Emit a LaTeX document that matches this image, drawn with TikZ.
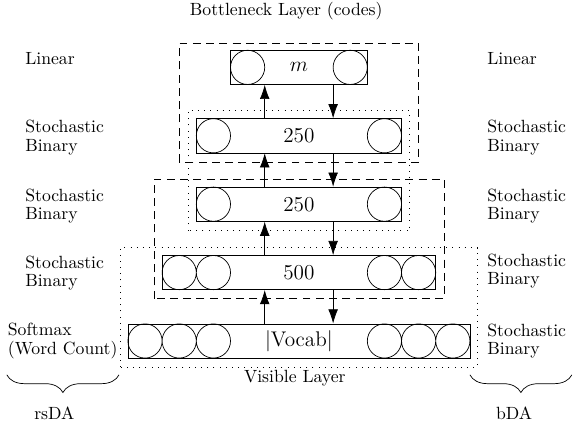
\documentclass[tikz,border=0pt]{standalone}
\usetikzlibrary{arrows.meta,decorations.pathreplacing}
\begin{document}
\begin{tikzpicture}[x=0.68cm,y=0.68cm,>={Latex[length=8pt,width=5.5pt]},
	layerbox/.style={draw, rectangle, minimum height=0.68cm, inner sep=0pt, font=\large},
	lbl/.style={align=left, inner sep=0pt, font=\fontsize{10}{10.5}\selectfont},
	dashbox/.style={dash pattern=on 4.5pt off 3pt},
	dotbox/.style={dash pattern=on 0.5pt off 3pt}]
	\useasboundingbox (-8.74,-2.54) rectangle (8.16,9.97);
	% layers
	\node[layerbox, minimum width=6.8cm] (vocab) at (0,0) {$|$Vocab$|$};
	\node[layerbox, minimum width=5.44cm] (h1) at (0,2) {500};
	\node[layerbox, minimum width=4.08cm] (h2) at (0,4) {250};
	\node[layerbox, minimum width=4.08cm] (h3) at (0,6) {250};
	\node[layerbox, minimum width=2.72cm] (code) at (0,8) {$m$};
	% units
	\draw (-4.5,0) circle (0.5) (-3.5,0) circle (0.5) (-2.5,0) circle (0.5);
	\draw (4.5,0) circle (0.5) (3.5,0) circle (0.5) (2.5,0) circle (0.5);
	\draw (-3.5,2) circle (0.5) (-2.5,2) circle (0.5);
	\draw (3.5,2) circle (0.5) (2.5,2) circle (0.5);
	\draw (-2.5,4) circle (0.5) (2.5,4) circle (0.5);
	\draw (-2.5,6) circle (0.5) (2.5,6) circle (0.5);
	\draw (-1.5,8) circle (0.5) (1.5,8) circle (0.5);
	% up and down
	\draw[->] ([xshift=-0.68cm]vocab.north) -- ([xshift=-0.68cm]h1.south);
	\draw[->] ([xshift=0.68cm]h1.south) -- ([xshift=0.68cm]vocab.north);
	\draw[->] ([xshift=-0.68cm]h1.north) -- ([xshift=-0.68cm]h2.south);
	\draw[->] ([xshift=0.68cm]h2.south) -- ([xshift=0.68cm]h1.north);
	\draw[->] ([xshift=-0.68cm]h2.north) -- ([xshift=-0.68cm]h3.south);
	\draw[->] ([xshift=0.68cm]h3.south) -- ([xshift=0.68cm]h2.north);
	\draw[->] ([xshift=-0.68cm]h3.north) -- ([xshift=-0.68cm]code.south);
	\draw[->] ([xshift=0.68cm]code.south) -- ([xshift=0.68cm]h3.north);
	% pairs
	\draw[dashbox] (-3.5,5.23) rectangle (3.5,8.71);
	\draw[dotbox] (-3.24,3.23) rectangle (3.24,6.74);
	\draw[dashbox] (-4.24,1.24) rectangle (4.24,4.74);
	\draw[dotbox] (-5.23,-0.76) rectangle (5.23,2.73);
	\node (bneck) at (-0.37,9.65) {Bottleneck Layer (codes)};
	\node (vis) at (-0.12,-1.08) {Visible Layer};
	% rsDA side
	\node[lbl, anchor=west] (linl) at (-8.01,8.27) {Linear};
	\node[lbl, anchor=west] (sb3l) at (-8.01,5.95) {Stochastic\\Binary};
	\node[lbl, anchor=west] (sb2l) at (-8.01,3.95) {Stochastic\\Binary};
	\node[lbl, anchor=west] (sb1l) at (-8.01,1.98) {Stochastic\\Binary};
	\node[lbl, anchor=west] (sml) at (-8.52,0) {Softmax\\(Word Count)};
	% bDA side
	\node[lbl, anchor=west] (linr) at (5.5,8.27) {Linear};
	\node[lbl, anchor=west] (sb3r) at (5.5,5.95) {Stochastic\\Binary};
	\node[lbl, anchor=west] (sb2r) at (5.5,3.95) {Stochastic\\Binary};
	\node[lbl, anchor=west] (sb1r) at (5.5,2.05) {Stochastic\\Binary};
	\node[lbl, anchor=west] (vr) at (5.5,0) {Stochastic\\Binary};
	\coordinate (bl1) at (-8.54,-0.99); \coordinate (bl2) at (-5.26,-0.99);
	\coordinate (br1) at (5.0,-0.99); \coordinate (br2) at (7.98,-0.99);
	\draw[decorate, decoration={brace, mirror, amplitude=10pt}] (bl1) -- (bl2);
	\draw[decorate, decoration={brace, mirror, amplitude=10pt}] (br1) -- (br2);
	\node (rsda) at (-7.15,-2.11) {rsDA};
	\node (bda) at (6.29,-2.11) {bDA};
\end{tikzpicture}
\end{document}
